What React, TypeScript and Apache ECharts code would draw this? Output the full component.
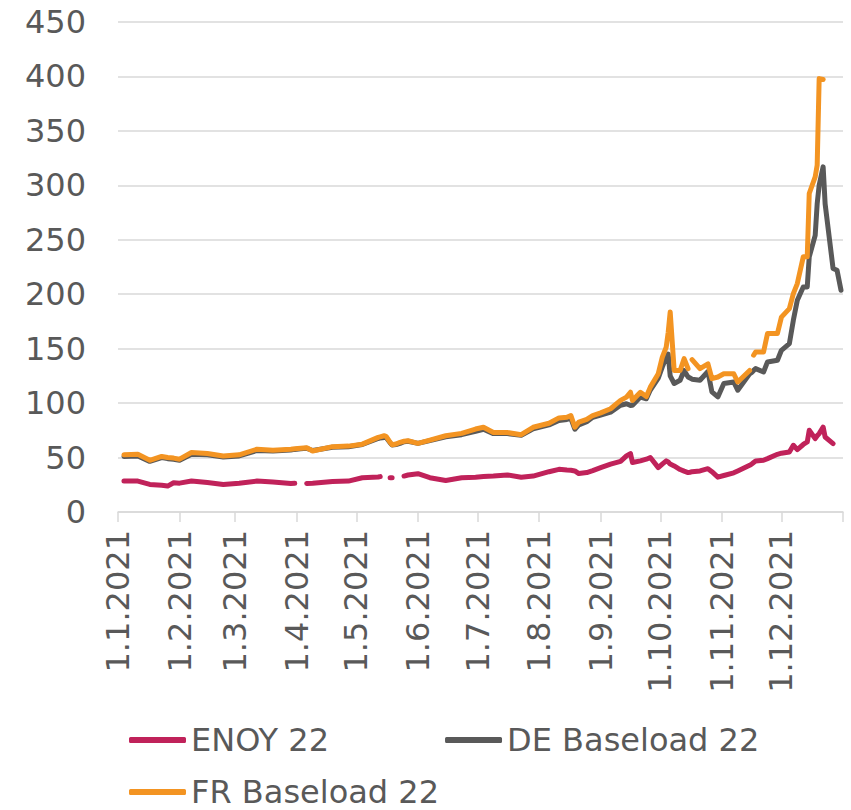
import React, { useEffect, useRef } from "react";
import * as echarts from "echarts";

// ---- data ----
const dates = [
  "2021-01-04", "2021-01-11", "2021-01-17", "2021-01-23", "2021-01-26", "2021-01-29",
  "2021-02-01", "2021-02-07", "2021-02-15", "2021-02-23", "2021-03-03", "2021-03-12",
  "2021-03-20", "2021-03-29", "2021-03-31", "2021-04-03", "2021-04-06", "2021-04-09",
  "2021-04-19", "2021-04-27", "2021-05-04", "2021-05-12", "2021-05-13", "2021-05-15",
  "2021-05-16", "2021-05-18", "2021-05-19", "2021-05-21", "2021-05-23", "2021-05-25",
  "2021-05-27", "2021-06-01", "2021-06-07", "2021-06-15", "2021-06-23", "2021-06-30",
  "2021-07-04", "2021-07-09", "2021-07-16", "2021-07-23", "2021-07-29", "2021-08-06",
  "2021-08-11", "2021-08-15", "2021-08-17", "2021-08-19", "2021-08-21", "2021-08-25",
  "2021-08-28", "2021-09-01", "2021-09-06", "2021-09-11", "2021-09-14", "2021-09-16",
  "2021-09-17", "2021-09-21", "2021-09-24", "2021-09-26", "2021-09-30", "2021-10-02",
  "2021-10-04", "2021-10-05", "2021-10-06", "2021-10-08", "2021-10-11", "2021-10-13",
  "2021-10-15", "2021-10-16", "2021-10-17", "2021-10-21", "2021-10-25", "2021-10-27",
  "2021-10-30", "2021-11-02", "2021-11-07", "2021-11-09", "2021-11-15", "2021-11-16",
  "2021-11-17", "2021-11-18", "2021-11-22", "2021-11-24", "2021-11-29", "2021-12-01",
  "2021-12-05", "2021-12-07", "2021-12-09", "2021-12-12", "2021-12-14", "2021-12-15",
  "2021-12-18", "2021-12-19", "2021-12-20", "2021-12-22", "2021-12-23", "2021-12-27",
  "2021-12-29", "2021-12-31",
];

const frBaseload = [
  52.5, 53, 47.5, 51, 50, 49.5,
  48.5, 54.6, 53.7, 51.5, 52.5, 57.7,
  56.8, 57.7, 58, 58.5, 59, 56,
  60, 60.5, 62.3, 68.5, 69, 70,
  69.5, 64, 61.7, 62.5, 64, 65,
  65.4, 63, 66, 70, 72.2, 76.2,
  77.8, 73, 73, 71, 77.8, 81.5,
  86.4, 87, 88.6, 78, 82.5, 85,
  88.6, 91, 94.8, 102.5, 105.5, 110,
  102.5, 110, 106, 114.7, 127, 142,
  151.5, 165, 183.7, 130, 130, 140.8,
  131.6, null, 140, 131.6, 136, 122.5,
  124, 127, 127, 119.4, 130, null,
  144, 147, 147, 163.9, 163.9, 179,
  186.8, 200.6, 209.8, 234.3, 234.3, 292.5,
  307.8, 318.5, 398, 397.2, null, null,
  null, null,
];

const deBaseload = [
  51, 51.5, 46.5, 50, 49, 48.5,
  47.5, 53, 52.5, 50.5, 51.5, 56.5,
  56, 57, 57.5, 58, 58.5, 56.5,
  59.5, 60, 62, 67.5, 68, 68.5,
  68.5, 63.5, 61.5, 62, 63, 64.5,
  65, 63, 65.5, 69, 71, 74,
  76, 72, 72, 70.5, 76.5, 80,
  84, 85, 86, 76, 80, 83,
  87, 89, 91.7, 98, 99.4, 97.9,
  98, 105.5, 104, 112, 123, 133,
  142, 145, 125, 118, 121, 130,
  124, 123, 122, 121, 129, 110.3,
  105.7, 118, 119.4, 111.8, 127, 128,
  130, 131.7, 128.6, 137.8, 139.4, 148.5,
  154.7, 176, 194.5, 206.7, 206.7, 234.3,
  254, 283, 300, 317, 283, 223.6,
  222, 203.7,
];

const enoy = [
  28.4, 28.4, 25.3, 24.5, 23.8, 26.9,
  26.5, 28.4, 27, 25.3, 26.5, 28.4,
  27.5, 26.2, 26.3, null, 26.2, 26.5,
  28, 28.4, 31.5, 32.1, 32.5, null,
  null, 31.5, 31.5, null, null, 33,
  34, 35.2, 31.5, 29, 31.5, 32,
  32.5, 33, 34, 32, 33, 37,
  39.2, 38.5, 38.3, 37.7, 35.3, 36.2,
  38, 40.8, 44, 46.5, 51.5, 53.7,
  45.4, 47, 48.5, 50, 40.8, 44,
  47, 46, 44, 42.3, 39, 37.5,
  36.2, 36.5, 37, 37.7, 39.8, 37,
  32, 33.5, 36, 37.7, 42.9, 44,
  45.5, 46.9, 47.5, 49, 53, 54,
  55.1, 61.3, 57.3, 62, 64.3, 75,
  67.4, 70, 72, 78, 68.9, 62.8,
  null, null,
];

const tickDates = [
  "2021-01-01", "2021-02-01", "2021-03-01", "2021-04-01", "2021-05-01", "2021-06-01",
  "2021-07-01", "2021-08-01", "2021-09-01", "2021-10-01", "2021-11-01", "2021-12-01",
];
const tickLabels = [
  "1.1.2021", "1.2.2021", "1.3.2021", "1.4.2021", "1.5.2021", "1.6.2021",
  "1.7.2021", "1.8.2021", "1.9.2021", "1.10.2021", "1.11.2021", "1.12.2021",
];
const axisEndDate = "2022-01-01";

const seriesNames = ["ENOY 22", "DE Baseload 22", "FR Baseload 22"];
const seriesColors = ["#C0225A", "#595959", "#F39422"];

const START = Date.UTC(2021, 0, 1);
const dayIndex = (s: string) => {
  const [y, m, d] = s.split("-").map(Number);
  return Math.round((Date.UTC(y, m - 1, d) - START) / 86400000);
};

const FONT = "DejaVu Sans";
const TEXT_COLOR = "#595959";

export default function App() {
  const ref = useRef<HTMLDivElement>(null);

  useEffect(() => {
    document.body.style.margin = "0";
    if (!ref.current) return;
    const chart = echarts.init(ref.current, undefined, { renderer: "svg" });

    const tickValues = tickDates.map(dayIndex);
    const labelMap: Record<number, string> = {};
    tickValues.forEach((v, i) => (labelMap[v] = tickLabels[i]));
    const axisMax = dayIndex(axisEndDate);

    const mk = (vals: (number | null)[]) =>
      dates.map((d, i) => [dayIndex(d), vals[i] == null ? "-" : vals[i]]);

    const valueSets = [enoy, deBaseload, frBaseload];

    const legendCommon = {
      icon: "roundRect",
      itemWidth: 57,
      itemHeight: 6,
      padding: 0,
      textStyle: { fontSize: 32, color: TEXT_COLOR, fontFamily: FONT },
    };

    chart.setOption({
      animation: false,
      backgroundColor: "#ffffff",
      textStyle: { fontFamily: FONT },
      grid: {
        left: 118,
        right: 8,
        top: 22,
        bottom: 298,
        containLabel: false,
        outerBoundsMode: "none",
      },
      legend: [
        {
          ...legendCommon,
          data: [seriesNames[0], seriesNames[1]],
          left: 129,
          top: 724,
          itemGap: 116,
        },
        {
          ...legendCommon,
          data: [seriesNames[2]],
          left: 129,
          top: 776,
        },
      ],
      xAxis: {
        type: "value",
        min: 0,
        max: axisMax,
        splitLine: { show: false },
        axisLine: { show: true, lineStyle: { color: "#d9d9d9", width: 1.5 } },
        axisTick: {
          show: true,
          length: 10,
          customValues: [...tickValues, axisMax],
          lineStyle: { color: "#d9d9d9", width: 1.5 },
        },
        axisLabel: {
          customValues: tickValues,
          rotate: 90,
          margin: 18,
          fontSize: 32,
          color: TEXT_COLOR,
          fontFamily: FONT,
          formatter: (v: number) => labelMap[v] ?? "",
        },
      },
      yAxis: {
        type: "value",
        min: 0,
        max: 450,
        interval: 50,
        axisLine: { show: false },
        axisTick: { show: false },
        splitLine: { lineStyle: { color: "#d9d9d9", width: 1.5 } },
        axisLabel: {
          fontSize: 32,
          color: TEXT_COLOR,
          fontFamily: FONT,
          margin: 32,
        },
      },
      series: seriesNames.map((name, i) => ({
        name,
        type: "line",
        data: mk(valueSets[i]),
        showSymbol: false,
        symbol: "none",
        connectNulls: false,
        color: seriesColors[i],
        lineStyle: {
          color: seriesColors[i],
          width: 5,
          cap: "round",
          join: "round",
        },
        z: 2 + i,
      })),
    });

    return () => chart.dispose();
  }, []);

  return <div ref={ref} style={{ width: 851, height: 810 }} />;
}
